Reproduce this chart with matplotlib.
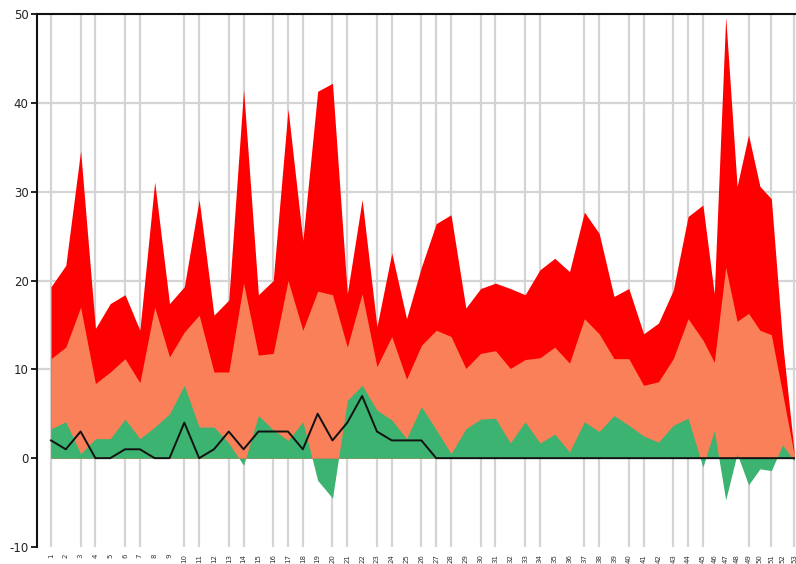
import matplotlib
matplotlib.use("Agg")
import matplotlib.pyplot as plt

# ---- data -------------------------------------------------------------
periods = [0, 1, 2, 3, 4, 5, 6, 7, 8, 9, 10, 11, 12, 13, 14, 15, 16, 17, 18, 19,
           20, 21, 22, 23, 24, 25, 26, 27, 28, 29, 30, 31, 32, 33, 34, 35, 36, 37,
           38, 39, 40, 41, 42, 43, 44, 44.77, 45.54, 46.31, 47.08, 47.85, 48.62,
           49.38, 50.15]
labels = [str(i + 1) for i in range(len(periods))]

red_vals = [19.3, 21.7, 34.6, 14.6, 17.4, 18.4, 14.4, 31.1, 17.4, 19.3, 29.1, 16.1,
            17.8, 41.5, 18.4, 20.0, 39.3, 24.5, 41.3, 42.2, 18.5, 29.1, 14.8, 23.1,
            15.7, 21.5, 26.4, 27.4, 16.9, 19.1, 19.7, 19.1, 18.4, 21.2, 22.5, 21.0,
            27.7, 25.3, 18.2, 19.1, 14.0, 15.2, 18.9, 27.2, 28.5, 18.5, 49.7, 30.6,
            36.4, 30.6, 29.2, 13.0, 0.9]
salmon_vals = [11.2, 12.5, 17.0, 8.4, 9.7, 11.2, 8.5, 17.0, 11.4, 14.2, 16.1, 9.7,
               9.7, 19.7, 11.6, 11.8, 20.0, 14.4, 18.8, 18.4, 12.5, 18.5, 10.3, 13.7,
               8.9, 12.7, 14.4, 13.7, 10.1, 11.8, 12.1, 10.1, 11.1, 11.3, 12.5, 10.7,
               15.7, 14.0, 11.2, 11.2, 8.2, 8.6, 11.2, 15.7, 13.3, 10.8, 21.5, 15.4,
               16.3, 14.4, 13.9, 7.3, 0.5]
green_vals = [3.3, 4.1, 0.5, 2.2, 2.2, 4.4, 2.2, 3.5, 5.0, 8.2, 3.5, 3.5,
              1.7, -0.8, 4.8, 3.2, 2.0, 4.1, -2.5, -4.5, 6.5, 8.2, 5.4, 4.3,
              2.2, 5.8, 3.2, 0.5, 3.3, 4.4, 4.5, 1.7, 4.1, 1.7, 2.7, 0.7,
              4.1, 3.0, 4.8, 3.7, 2.5, 1.8, 3.7, 4.5, -1.0, 3.1, -4.7, 0.5,
              -3.0, -1.2, -1.4, 1.5, -0.3]
line_vals = [2, 1, 3, 0, 0, 1, 1, 0, 0, 4, 0, 1, 3, 1, 3, 3, 3, 1, 5, 2, 4, 7, 3, 2,
             2, 2, 0, 0, 0, 0, 0, 0, 0, 0, 0, 0, 0, 0, 0, 0, 0, 0, 0, 0, 0, 0, 0, 0,
             0, 0, 0, 0, 0]

y_ticks = [-10, 0, 10, 20, 30, 40, 50]
grid_idx = [0, 2, 3, 5, 6, 9, 10, 12, 13, 15, 16, 17, 19, 20, 22, 23, 25, 26, 27,
            29, 30, 32, 33, 36, 37, 39, 40, 42, 43, 44, 48, 50, 52]

# ---- figure -------------------------------------------------------------
W, H = 796, 564
fig = plt.figure(figsize=(W / 100, H / 100), dpi=100)
ax = fig.add_axes([37 / W, 17 / H, (W - 37) / W, (547 - 14) / H])

grid_col = "#d4d4d4"
for i in grid_idx:
    ax.axvline(periods[i], color=grid_col, lw=1.6, zorder=0)
for t in y_ticks:
    if y_ticks[0] < t < y_ticks[-1] and t != 0:
        ax.axhline(t, color=grid_col, lw=1.6, zorder=0)

ax.fill_between(periods, 0, red_vals, color="#ff0000", lw=0, zorder=1)
ax.fill_between(periods, 0, salmon_vals, color="#f98058", lw=0, zorder=2)
ax.fill_between(periods, 0, green_vals, color="#3cb371", lw=0, zorder=3)
ax.plot(periods, line_vals, color="#111111", lw=1.4, zorder=4)

ax.set_ylim(y_ticks[0], y_ticks[-1])
ax.set_xlim(periods[0] - 14 / 14.84, periods[-1] + 2 / 14.84)
ax.set_yticks(y_ticks)
ax.set_yticklabels([str(t) for t in y_ticks], fontsize=8.5, color="#222222")
ax.set_xticks(periods)
ax.set_xticklabels(labels, rotation=90, fontsize=5, color="#333333")
ax.tick_params(axis="x", length=0, pad=5)
ax.tick_params(axis="y", length=4, width=1.2, pad=2)

for s in ["right", "bottom"]:
    ax.spines[s].set_visible(False)
for s in ["left", "top"]:
    ax.spines[s].set_linewidth(1.5)
    ax.spines[s].set_color("#111111")
ax.set_facecolor("white")

fig.savefig("out.png", dpi=100)
